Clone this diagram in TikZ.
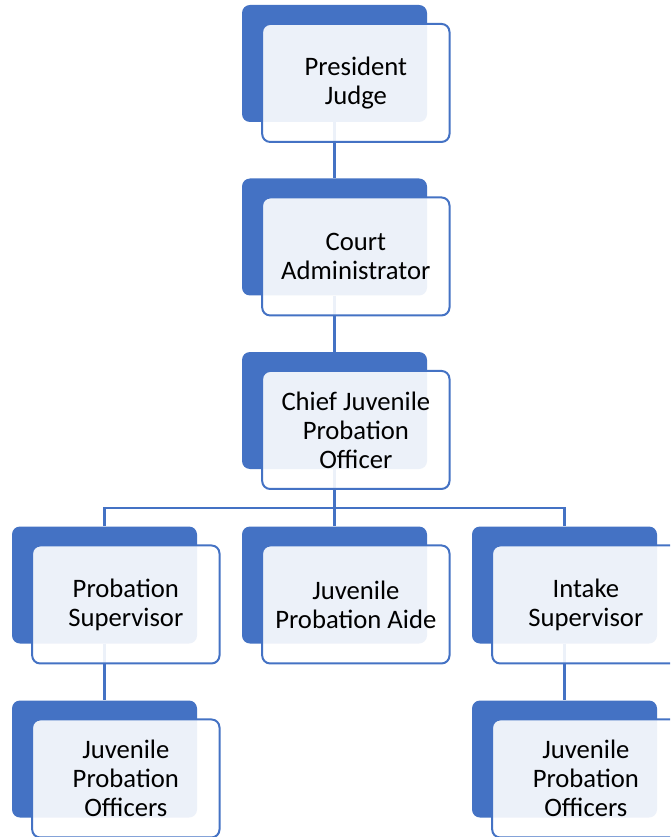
\documentclass[tikz,border=0pt]{standalone}
\usepackage{fontspec}
\setmainfont{Carlito}
\definecolor{accent}{HTML}{4472C4}
\begin{document}
\begin{tikzpicture}[x=0.75pt,y=-0.75pt,
  backbox/.style={draw=none, fill=accent, rounded corners=6pt,
    minimum width=138.75pt, minimum height=87.75pt, inner sep=0pt},
  frontbox/.style={draw=accent, line width=1.5pt, fill=white, fill opacity=0.9,
    draw opacity=1, text opacity=1, rounded corners=6pt,
    minimum width=140.5pt, minimum height=88.5pt, inner sep=0pt,
    xshift=16pt, yshift=-14.6pt, align=center,
    font=\fontsize{20}{21.75}\selectfont},
  link/.style={draw=accent, line width=1.6pt}]
\clip (0,0) rectangle (670,837);
\fill[white] (0,0) rectangle (670,837);

% blue backing tiles
\node[backbox] (pj)  at (334.5,63.5)  {};
\node[backbox] (ca)  at (334.5,237)   {};
\node[backbox] (cj)  at (334.5,410.5) {};
\node[backbox] (ps)  at (104.5,585)   {};
\node[backbox] (ja)  at (334.5,585)   {};
\node[backbox] (is)  at (564.5,585)   {};
\node[backbox] (po1) at (104.5,759)   {};
\node[backbox] (po2) at (564.5,759)   {};

% reporting lines
\coordinate (bus) at (334.5,508);
\draw[link] (pj.south) -- (ca.north);
\draw[link] (ca.south) -- (cj.north);
\draw[link] (cj.south) -- (ja.north);
\draw[link] (ps.north) |- (is.north |- bus) -- (is.north);
\draw[link] (ps.south) -- (po1.north);
\draw[link] (is.south) -- (po2.north);

% labelled front cards
\node[frontbox] (pjt)  at (pj)  {President\\Judge};
\node[frontbox] (cat)  at (ca)  {Court\\Administrator};
\node[frontbox] (cjt)  at (cj)  {Chief Juvenile\\Probation\\Officer};
\node[frontbox] (pst)  at (ps)  {Probation\\Supervisor};
\node[frontbox] (jat)  at (ja)  {Juvenile\\Probation Aide};
\node[frontbox] (ist)  at (is)  {Intake\\Supervisor};
\node[frontbox] (po1t) at (po1) {Juvenile\\Probation\\Officers};
\node[frontbox] (po2t) at (po2) {Juvenile\\Probation\\Officers};
\end{tikzpicture}
\end{document}
